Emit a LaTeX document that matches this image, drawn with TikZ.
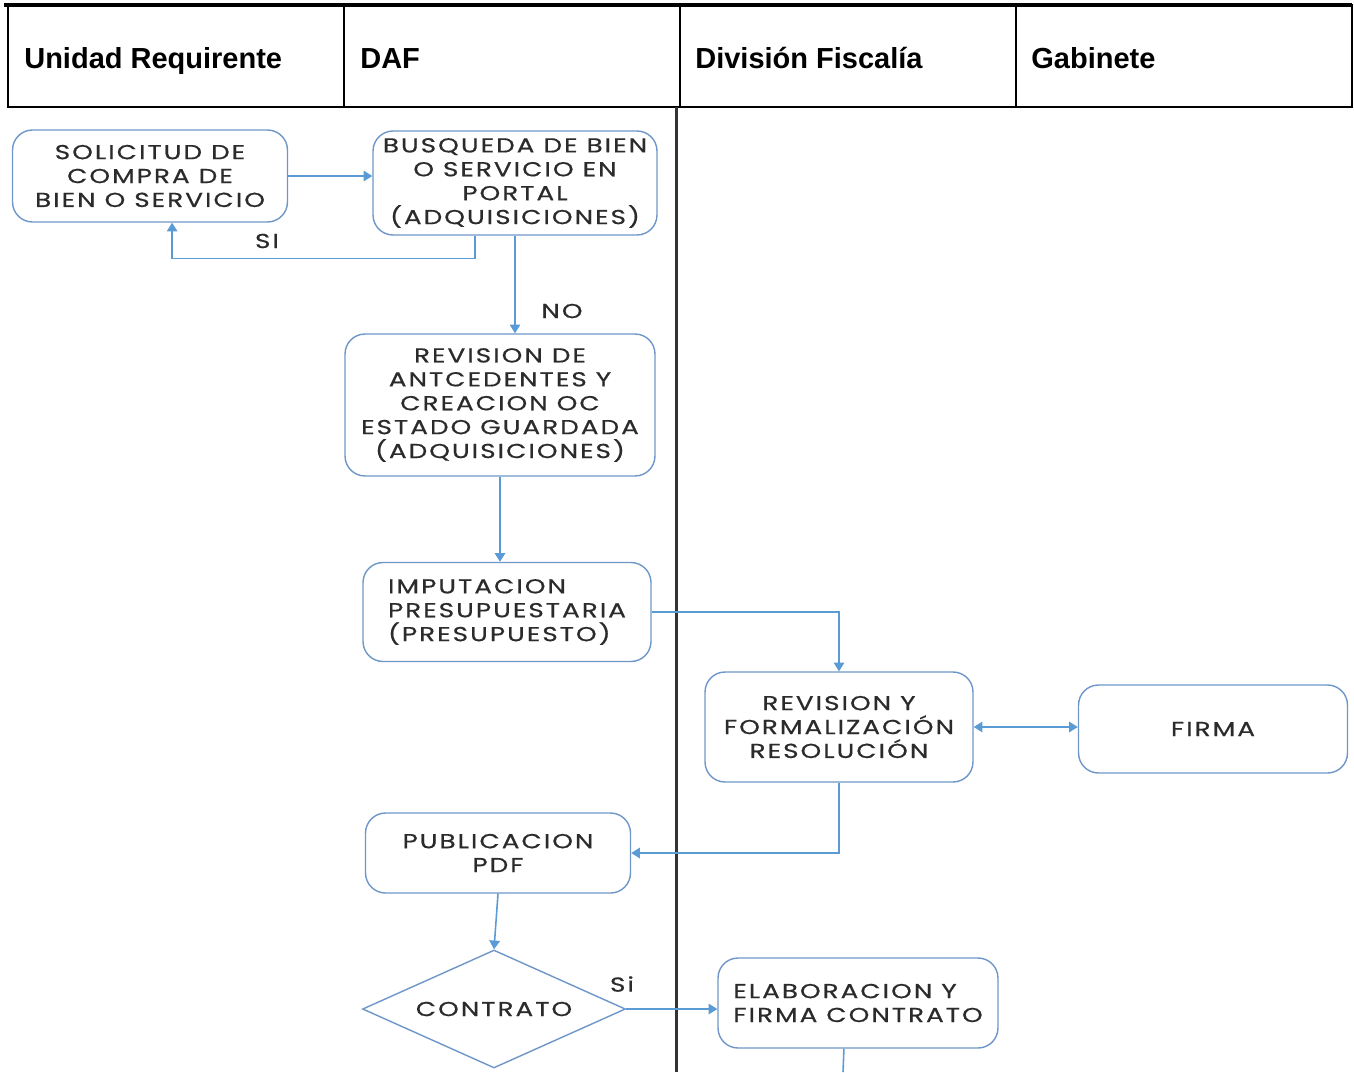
\documentclass[tikz,border=0pt]{standalone}
\usepackage{fontspec}
\setmainfont{Liberation Sans}
\newfontfamily\boxfont[LetterSpace=10, FakeStretch=1.3, FakeBold=0.6]{Poppins}
\usetikzlibrary{shapes.geometric,arrows.meta,calc}
\definecolor{lineblue}{HTML}{5B9BD5}
\definecolor{boxblue}{HTML}{6E96C8}
\definecolor{boxtext}{HTML}{2B2B2B}
\begin{document}
\begin{tikzpicture}[x=0.02cm, y=-0.02cm,
    header/.style={anchor=base west, inner sep=0pt, font=\fontsize{16.5}{19}\selectfont\bfseries},
    proc/.style={rectangle, rounded corners=0.4cm, draw=boxblue, line width=0.8pt, align=center, inner sep=2pt, text=boxtext, font=\boxfont\fontsize{11.5}{13.6}\selectfont},
    dec/.style={diamond, draw=boxblue, line width=0.8pt, inner sep=0pt, text=boxtext, font=\boxfont\fontsize{11.5}{13.6}\selectfont},
    flow/.style={draw=lineblue, line width=0.9pt, -{Triangle[length=5pt,width=6pt]}},
    tag/.style={text=boxtext, inner sep=0pt, font=\boxfont\fontsize{11.5}{13}\selectfont}
]
\useasboundingbox (0,0) rectangle (1354,1072);
% header row
\draw[line width=0.9pt] (8,5) rectangle (1352,107);
\draw[line width=0.9pt] (344,5) -- (344,107) (680,5) -- (680,107) (1016,5) -- (1016,107);
\draw[line width=2.3pt] (4,5) -- (1352,5);
\node[header] (hdUnidad) at (24,68) {Unidad Requirente};
\node[header] (hdDaf) at (360,68) {DAF};
\node[header] (hdFiscalia) at (695,68) {División Fiscalía};
\node[header] (hdGabinete) at (1031,68) {Gabinete};
% lane separator
\draw[line width=1.7pt, draw=black!80] (676,107) -- (676,1072);

% process boxes
\node[proc, minimum width=5.5cm, minimum height=1.84cm] (sol) at (150,176) {SOLICITUD DE\\COMPRA DE\\BIEN O SERVICIO};
\node[proc, minimum width=5.68cm, minimum height=2.08cm] (bus) at (515,183) {BUSQUEDA DE BIEN\\O SERVICIO EN\\PORTAL\\(ADQUISICIONES)};
\node[proc, minimum width=6.2cm, minimum height=2.84cm] (rev) at (500,405) {REVISION DE\\ANTCEDENTES Y\\CREACION OC\\ESTADO GUARDADA\\(ADQUISICIONES)};
\node[proc, minimum width=5.76cm, minimum height=1.98cm, align=left] (imp) at (507,612) {IMPUTACION\\PRESUPUESTARIA\\(PRESUPUESTO)};
\node[proc, minimum width=5.36cm, minimum height=2.2cm] (revf) at (839,727) {REVISION Y\\FORMALIZACIÓN\\RESOLUCIÓN};
\node[proc, minimum width=5.38cm, minimum height=1.76cm] (firma) at (1213,729) {FIRMA};
\node[proc, minimum width=5.3cm, minimum height=1.6cm] (pub) at (498,853) {PUBLICACION\\PDF};
\node[dec, minimum width=5.26cm, minimum height=2.36cm] (cont) at (494,1009) {\makebox[0pt]{CONTRATO}};
\node[proc, minimum width=5.6cm, minimum height=1.8cm, align=left] (elab) at (858,1003) {ELABORACION Y\\FIRMA CONTRATO};
\coordinate (elabOut) at (843,1072);

% connectors
\draw[flow] (sol.east) -- (sol.east -| bus.west);
\draw[flow] ($(bus.south west)!0.36!(bus.south east)$) -- ++(0,23) -| ($(sol.south west)!0.58!(sol.south east)$);
\node[tag] (lblSi) at (267,241) {SI};
\draw[flow] (bus.south) -- (bus.south |- rev.north);
\node[tag] (lblNo) at (562,311) {NO};
\draw[flow] (rev.south) -- (rev.south |- imp.north);
\draw[flow] (imp.east) -| (revf.north);
\draw[flow, {Triangle[length=5pt,width=6pt]}-{Triangle[length=5pt,width=6pt]}] (revf.east) -- (revf.east -| firma.west);
\draw[flow] (revf.south) |- (pub.east);
\draw[flow] (pub.south) -- (cont.north);
\draw[flow] (cont.east) -- (cont.east -| elab.west);
\node[tag] (lblSiCont) at (622,984) {Si};
\draw[draw=lineblue, line width=0.9pt] ($(elab.south west)!0.45!(elab.south east)$) -- (elabOut);
\end{tikzpicture}
\end{document}
